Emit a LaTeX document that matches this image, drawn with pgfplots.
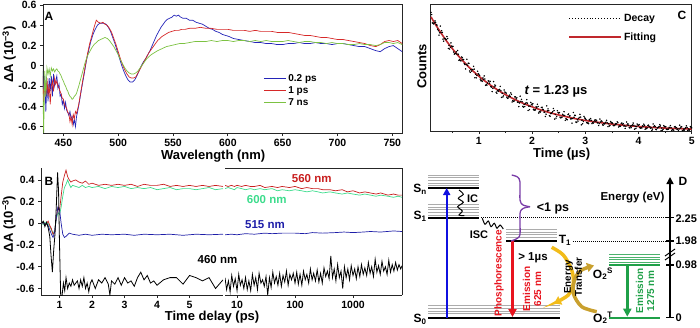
\documentclass[border=0pt]{standalone}
\usepackage{fontspec}
\setmainfont{Liberation Sans}
\usepackage{pgfplots}
\pgfplotsset{compat=1.18}
\usetikzlibrary{arrows.meta}
\newcommand{\fsz}[2]{\fontsize{#1}{#2}\selectfont}
\definecolor{aBlue}{HTML}{2424B8}
\definecolor{aRed}{HTML}{D62828}
\definecolor{aGreen}{HTML}{7CC242}
\definecolor{bRed}{HTML}{C81E1E}
\definecolor{bMint}{HTML}{3CDC8C}
\definecolor{bBlue}{HTML}{1E1EA8}
\definecolor{fitRed}{HTML}{C0282D}
\definecolor{dBlue}{HTML}{1010E0}
\definecolor{dRed}{HTML}{E8141E}
\definecolor{dGreen}{HTML}{1FA048}
\definecolor{dPurple}{HTML}{7A3DA8}
\definecolor{dGold}{HTML}{F2BC1A}
\definecolor{dGold2}{HTML}{C9A02E}
\pgfplotsset{
  panel/.style={scale only axis, anchor=south west, tick align=outside,
    axis line style={line width=0.9pt, black!85},
    every tick/.style={line width=0.8pt, black!85},
    major tick length=3pt, minor tick length=2pt,
    tick label style={font=\bfseries\fsz{10.5}{12}},
    label style={font=\bfseries\fsz{13}{15}},
  },
  lev/.style={line width=2.2pt, black},
  sub/.style={line width=0.7pt, gray!65},
  gsub/.style={line width=0.7pt, dGreen!80},
  dots/.style={only marks, mark=*, mark size=0.5pt, black, forget plot},
}
\begin{document}
\begin{tikzpicture}
\useasboundingbox (0pt,0pt) rectangle (700pt,327pt);

% ---------------- Panel A ----------------
\begin{axis}[panel, at={(43pt,194pt)}, width=359.7pt, height=129pt,
  xmin=431.4, xmax=759.5, ymin=-0.662, ymax=0.61,
  xtick={450,500,550,600,650,700,750}, xticklabels={450,500,550,600,650,700,750},
  ytick={-0.6,-0.4,-0.2,0,0.2,0.4,0.6}, yticklabels={-0.6,-0.4,-0.2,0,0.2,0.4,0.6},
  xtick pos=left, ytick pos=left,
  xlabel={Wavelength (nm)}, ylabel={ΔA (10\textsuperscript{−3})},
  xlabel style={at={(axis description cs:0.473,-0.18)}, anchor=center},
  ylabel style={at={(axis description cs:-0.094,0.61)}, anchor=center},
  legend style={draw=none, fill=none, at={(axis description cs:0.612,0.47)}, anchor=north west, font=\bfseries\fsz{10}{12}, inner sep=0pt, row sep=-0.5pt},
  legend image code/.code={\draw[#1, line width=1pt] (0pt,0pt) -- (22pt,0pt);},
  legend cell align=left,
]
\addplot[aBlue, line width=0.7pt] coordinates {(431,-0.05)(432,-0.30)(433,-0.10)(434,-0.45)(435,-0.15)(436,-0.35)(437,-0.12)(438,-0.25)(439,-0.10)(440,-0.30)(441,-0.08)(442,-0.20)(443,-0.15)(444,-0.10)(445,-0.22)(446,-0.18)(447,-0.30)(448,-0.28)(449,-0.38)(450,-0.34)(451,-0.42)(452,-0.36)(453,-0.44)(454,-0.46)(455,-0.49)(456,-0.45)(457,-0.52)(458,-0.50)(459,-0.58)(460,-0.53)(461,-0.60)(462,-0.50)(463,-0.45)(465,-0.33)(467,-0.20)(469,-0.08)(471,0.05)(473,0.15)(475,0.24)(477,0.31)(479,0.36)(481,0.40)(483,0.42)(485,0.42)(487,0.42)(489,0.41)(491,0.38)(493,0.34)(495,0.28)(497,0.22)(499,0.15)(501,0.08)(503,0.01)(505,-0.05)(507,-0.10)(509,-0.14)(511,-0.16)(513,-0.16)(515,-0.14)(517,-0.10)(519,-0.05)(521,0.00)(523,0.04)(525,0.07)(527,0.11)(529,0.15)(531,0.20)(533,0.25)(535,0.30)(537,0.34)(539,0.38)(541,0.41)(543,0.44)(545,0.46)(547,0.47)(549,0.48)(551,0.50)(553,0.49)(555,0.50)(557,0.48)(559,0.47)(562,0.47)(565,0.45)(568,0.45)(571,0.43)(574,0.42)(577,0.41)(580,0.39)(583,0.37)(586,0.36)(589,0.34)(592,0.33)(595,0.31)(598,0.30)(601,0.29)(605,0.27)(610,0.26)(615,0.25)(620,0.24)(625,0.23)(630,0.23)(635,0.22)(640,0.22)(645,0.21)(650,0.21)(655,0.22)(660,0.22)(665,0.23)(670,0.22)(675,0.22)(680,0.23)(685,0.22)(690,0.22)(695,0.21)(700,0.22)(705,0.22)(710,0.21)(715,0.20)(720,0.19)(725,0.19)(730,0.17)(735,0.15)(739,0.14)(743,0.17)(747,0.19)(751,0.20)(755,0.17)(759,0.14)};
\addlegendentry{0.2 ps}
\addplot[aRed, line width=0.7pt] coordinates {(431,-0.10)(432,-0.35)(433,-0.15)(434,-0.28)(435,-0.12)(436,-0.30)(437,-0.18)(438,-0.38)(439,-0.20)(440,-0.15)(441,-0.25)(442,-0.12)(443,-0.18)(444,-0.15)(445,-0.20)(446,-0.22)(447,-0.25)(448,-0.28)(449,-0.32)(450,-0.33)(451,-0.38)(452,-0.40)(453,-0.42)(454,-0.46)(455,-0.47)(456,-0.55)(457,-0.50)(458,-0.58)(459,-0.48)(460,-0.52)(461,-0.45)(462,-0.47)(464,-0.38)(466,-0.25)(468,-0.12)(470,0.00)(472,0.12)(474,0.22)(476,0.30)(478,0.38)(480,0.45)(482,0.43)(484,0.42)(486,0.43)(488,0.41)(490,0.40)(492,0.37)(494,0.33)(496,0.27)(498,0.21)(500,0.14)(502,0.07)(504,0.01)(506,-0.04)(508,-0.08)(510,-0.11)(512,-0.12)(514,-0.12)(516,-0.11)(518,-0.07)(520,-0.03)(522,0.01)(524,0.05)(526,0.09)(528,0.13)(530,0.16)(532,0.19)(534,0.22)(536,0.25)(538,0.27)(540,0.29)(543,0.31)(546,0.33)(549,0.34)(552,0.35)(555,0.35)(558,0.36)(561,0.36)(565,0.37)(570,0.37)(575,0.38)(580,0.37)(585,0.37)(590,0.36)(595,0.36)(600,0.36)(605,0.35)(610,0.35)(615,0.35)(620,0.34)(625,0.35)(630,0.34)(635,0.34)(640,0.34)(645,0.33)(650,0.33)(655,0.33)(660,0.32)(665,0.31)(670,0.30)(675,0.30)(680,0.29)(685,0.28)(690,0.28)(695,0.27)(700,0.26)(705,0.26)(710,0.25)(715,0.24)(720,0.23)(725,0.22)(730,0.20)(735,0.19)(739,0.21)(743,0.24)(747,0.25)(751,0.24)(755,0.25)(759,0.22)};
\addlegendentry{1 ps}
\addplot[aGreen, line width=0.7pt] coordinates {(431,0.0)(432,-0.66)(433,-0.05)(434,-0.30)(435,-0.02)(436,-0.08)(437,-0.03)(438,-0.10)(439,-0.02)(440,-0.05)(441,-0.03)(442,-0.06)(443,-0.04)(444,-0.03)(445,-0.05)(446,-0.06)(447,-0.08)(448,-0.10)(449,-0.13)(450,-0.15)(451,-0.18)(452,-0.20)(453,-0.23)(454,-0.25)(455,-0.28)(456,-0.30)(457,-0.31)(458,-0.33)(459,-0.32)(460,-0.30)(461,-0.29)(462,-0.27)(464,-0.20)(466,-0.12)(468,-0.04)(470,0.04)(472,0.10)(474,0.14)(476,0.18)(478,0.21)(480,0.23)(482,0.25)(484,0.26)(486,0.27)(488,0.28)(490,0.27)(492,0.25)(494,0.22)(496,0.19)(498,0.15)(500,0.11)(502,0.06)(504,0.02)(506,-0.02)(508,-0.05)(510,-0.07)(512,-0.08)(514,-0.08)(516,-0.07)(518,-0.05)(520,-0.02)(522,0.01)(524,0.04)(526,0.07)(528,0.09)(530,0.11)(533,0.13)(536,0.15)(540,0.17)(544,0.19)(548,0.20)(552,0.21)(556,0.22)(560,0.22)(565,0.23)(570,0.24)(575,0.24)(580,0.24)(585,0.25)(590,0.24)(595,0.25)(600,0.25)(605,0.24)(610,0.25)(615,0.25)(620,0.24)(625,0.25)(630,0.24)(635,0.25)(640,0.24)(645,0.24)(650,0.24)(655,0.25)(660,0.24)(665,0.23)(670,0.24)(675,0.24)(680,0.23)(685,0.23)(690,0.22)(695,0.23)(700,0.22)(705,0.22)(710,0.21)(715,0.21)(720,0.22)(725,0.21)(730,0.21)(735,0.20)(739,0.21)(743,0.23)(747,0.23)(751,0.22)(755,0.23)(759,0.21)};
\addlegendentry{7 ns}
\end{axis}
\node[font=\bfseries\fsz{12}{14}] at (49pt,311pt) {A};

% ---------------- Panel B (linear part) ----------------
\begin{axis}[panel, at={(41pt,32pt)}, width=182pt, height=127pt,
  xmin=0.43, xmax=6.03, ymin=-0.66, ymax=0.51,
  axis x line*=bottom, axis y line*=left, axis line style={-},
  xtick={1,2,3,4,5}, xticklabels={1,2,3,4,5},
  ytick={-0.6,-0.4,-0.2,0,0.2,0.4}, yticklabels={-0.6,-0.4,-0.2,0,0.2,0.4},
  xlabel={Time delay (ps)}, ylabel={ΔA (10\textsuperscript{−3})},
  xlabel style={at={(axis description cs:0.94,-0.171)}, anchor=center},
  ylabel style={at={(axis description cs:-0.176,0.56)}, anchor=center},
]
\addplot[bMint, line width=0.7pt] coordinates {(0.45,0.0)(0.5,-0.01)(0.55,0.01)(0.6,-0.01)(0.65,0.0)(0.7,-0.03)(0.75,-0.06)(0.8,-0.1)(0.85,-0.06)(0.9,0.03)(0.95,0.10)(1.0,0.08)(1.05,0.15)(1.1,0.25)(1.15,0.33)(1.2,0.36)(1.25,0.40)(1.3,0.36)(1.35,0.33)(1.4,0.35)(1.5,0.34)(1.6,0.33)(1.7,0.35)(1.8,0.33)(1.9,0.34)(2.0,0.33)(2.2,0.34)(2.4,0.32)(2.6,0.34)(2.8,0.33)(3.0,0.34)(3.2,0.32)(3.4,0.33)(3.6,0.32)(3.8,0.33)(4.0,0.31)(4.2,0.32)(4.4,0.33)(4.6,0.31)(4.8,0.32)(5.0,0.32)(5.2,0.31)(5.4,0.32)(5.6,0.33)(5.8,0.31)(6.03,0.32)};
\addplot[bRed, line width=0.7pt] coordinates {(0.45,0.0)(0.5,0.01)(0.55,-0.01)(0.6,0.0)(0.65,0.02)(0.7,-0.02)(0.75,-0.05)(0.8,-0.1)(0.85,-0.08)(0.9,0.05)(0.95,0.14)(1.0,0.12)(1.05,0.25)(1.1,0.38)(1.15,0.44)(1.2,0.49)(1.25,0.43)(1.3,0.40)(1.35,0.38)(1.4,0.39)(1.5,0.40)(1.6,0.38)(1.7,0.37)(1.8,0.39)(1.9,0.36)(2.0,0.37)(2.2,0.35)(2.4,0.36)(2.6,0.35)(2.8,0.36)(3.0,0.35)(3.2,0.36)(3.4,0.34)(3.6,0.36)(3.8,0.35)(4.0,0.35)(4.2,0.36)(4.4,0.34)(4.6,0.35)(4.8,0.34)(5.0,0.35)(5.2,0.34)(5.4,0.35)(5.6,0.34)(5.8,0.35)(6.03,0.34)};
\addplot[bBlue, line width=0.7pt] coordinates {(0.45,0.0)(0.5,0.01)(0.55,-0.01)(0.6,0.0)(0.65,-0.02)(0.7,-0.06)(0.75,-0.1)(0.8,-0.13)(0.85,-0.08)(0.9,0.05)(0.95,0.15)(1.0,0.13)(1.05,0.0)(1.1,-0.1)(1.15,-0.13)(1.2,-0.12)(1.3,-0.09)(1.4,-0.10)(1.6,-0.11)(1.8,-0.10)(2.0,-0.11)(2.3,-0.10)(2.6,-0.105)(3.0,-0.10)(3.3,-0.11)(3.6,-0.10)(4.0,-0.105)(4.4,-0.10)(4.8,-0.11)(5.2,-0.10)(5.6,-0.105)(6.03,-0.10)};
\addplot[black, line width=0.8pt] coordinates {(0.45,0.0)(0.5,0.02)(0.55,-0.03)(0.6,0.01)(0.65,-0.04)(0.7,-0.12)(0.74,-0.30)(0.78,-0.45)(0.82,-0.25)(0.86,-0.10)(0.9,0.15)(0.94,0.47)(0.97,0.30)(1.0,-0.2)(1.04,-0.72)(1.08,-0.66)(1.12,-0.55)(1.16,-0.62)(1.2,-0.5)(1.25,-0.6)(1.3,-0.55)(1.35,-0.58)(1.4,-0.52)(1.45,-0.57)(1.5,-0.55)(1.55,-0.53)(1.6,-0.6)(1.65,-0.52)(1.7,-0.58)(1.75,-0.5)(1.8,-0.6)(1.85,-0.55)(1.9,-0.63)(1.95,-0.55)(2.0,-0.52)(2.1,-0.6)(2.2,-0.52)(2.3,-0.55)(2.4,-0.5)(2.5,-0.56)(2.55,-0.66)(2.6,-0.53)(2.7,-0.56)(2.8,-0.5)(2.9,-0.57)(3.0,-0.5)(3.1,-0.55)(3.2,-0.53)(3.3,-0.58)(3.4,-0.5)(3.5,-0.45)(3.6,-0.52)(3.7,-0.48)(3.8,-0.55)(3.9,-0.53)(4.0,-0.57)(4.2,-0.52)(4.4,-0.5)(4.6,-0.5)(4.8,-0.56)(5.0,-0.48)(5.2,-0.5)(5.4,-0.53)(5.6,-0.5)(5.8,-0.6)(6.03,-0.52)};
\end{axis}

% ---------------- Panel B (log part) ----------------
\begin{axis}[panel, at={(225pt,32pt)}, width=177pt, height=127pt,
  xmode=log, xmin=6.2, xmax=7000, ymin=-0.66, ymax=0.51,
  axis x line*=box, axis y line*=right, axis line style={-},
  xtick={10,100,1000}, xticklabels={10,100,1000}, xtick pos=left, xminorticks=false,
  ytick=\empty,
]
\addplot[bMint, line width=0.7pt] coordinates {(6.2,0.32)(7,0.33)(8,0.32)(9,0.31)(10,0.33)(12,0.32)(14,0.31)(17,0.32)(20,0.31)(25,0.32)(30,0.31)(40,0.32)(50,0.30)(60,0.31)(80,0.30)(100,0.31)(130,0.30)(160,0.29)(200,0.30)(250,0.29)(300,0.28)(400,0.29)(500,0.28)(650,0.27)(800,0.28)(1000,0.27)(1300,0.26)(1600,0.27)(2000,0.26)(2500,0.25)(3000,0.26)(4000,0.25)(5000,0.24)(6000,0.25)(7000,0.24)};
\addplot[bRed, line width=0.7pt] coordinates {(6.2,0.35)(7,0.34)(8,0.35)(9,0.34)(10,0.35)(12,0.34)(14,0.35)(17,0.34)(20,0.34)(25,0.35)(30,0.33)(40,0.34)(50,0.33)(60,0.34)(80,0.33)(100,0.34)(130,0.32)(160,0.33)(200,0.32)(250,0.32)(300,0.31)(400,0.31)(500,0.30)(650,0.31)(800,0.29)(1000,0.30)(1300,0.28)(1600,0.29)(2000,0.28)(2500,0.27)(3000,0.28)(4000,0.26)(5000,0.27)(6000,0.26)(7000,0.26)};
\addplot[bBlue, line width=0.7pt] coordinates {(6.2,-0.105)(8,-0.10)(10,-0.105)(14,-0.095)(20,-0.10)(30,-0.09)(40,-0.095)(60,-0.09)(100,-0.09)(150,-0.095)(200,-0.085)(300,-0.09)(500,-0.085)(700,-0.08)(1000,-0.085)(1500,-0.08)(2000,-0.075)(3000,-0.08)(5000,-0.07)(7000,-0.075)};
\addplot[black, line width=0.8pt] coordinates {(6.2,-0.50)(6.6,-0.61)(7.1,-0.53)(7.6,-0.63)(8.1,-0.48)(8.7,-0.58)(9.3,-0.51)(10,-0.62)(10.7,-0.47)(11.4,-0.57)(12.2,-0.52)(13.1,-0.60)(14,-0.50)(15,-0.61)(16,-0.53)(17.2,-0.62)(18.4,-0.47)(19.7,-0.57)(21,-0.50)(22.5,-0.61)(24,-0.46)(25.8,-0.55)(27.6,-0.52)(29.5,-0.58)(31.6,-0.49)(33.8,-0.66)(36.2,-0.50)(38.7,-0.59)(41.4,-0.45)(44.3,-0.55)(47.4,-0.49)(50.7,-0.57)(54.3,-0.46)(58.1,-0.58)(62.1,-0.48)(66.5,-0.54)(71.1,-0.44)(76.1,-0.57)(81.4,-0.47)(87.1,-0.52)(93.2,-0.46)(100,-0.55)(107,-0.45)(114,-0.56)(122,-0.47)(131,-0.57)(140,-0.44)(150,-0.52)(160,-0.47)(172,-0.55)(184,-0.42)(197,-0.52)(210,-0.46)(225,-0.53)(241,-0.43)(258,-0.54)(276,-0.46)(295,-0.55)(316,-0.41)(338,-0.49)(362,-0.44)(387,-0.51)(414,-0.30)(443,-0.50)(474,-0.42)(507,-0.53)(543,-0.38)(581,-0.50)(621,-0.44)(665,-0.60)(711,-0.40)(761,-0.50)(814,-0.42)(871,-0.52)(932,-0.39)(1000,-0.48)(1070,-0.42)(1140,-0.51)(1220,-0.40)(1310,-0.49)(1400,-0.38)(1500,-0.47)(1600,-0.41)(1720,-0.48)(1840,-0.36)(1970,-0.46)(2100,-0.40)(2250,-0.49)(2410,-0.33)(2580,-0.45)(2760,-0.39)(2950,-0.47)(3160,-0.35)(3380,-0.44)(3620,-0.40)(3870,-0.47)(4140,-0.34)(4430,-0.45)(4740,-0.38)(5070,-0.44)(5430,-0.36)(5810,-0.43)(6210,-0.38)(6650,-0.42)(7000,-0.39)};
\end{axis}
\node[font=\bfseries\fsz{12}{14}] at (49pt,146pt) {B};
\node[font=\bfseries\fsz{11.5}{13}, text=bRed] at (311.7pt,148pt) {560 nm};
\node[font=\bfseries\fsz{11.5}{13}, text=bMint] at (266.7pt,127.7pt) {600 nm};
\node[font=\bfseries\fsz{11.5}{13}, text=bBlue] at (265pt,102.7pt) {515 nm};
\node[font=\bfseries\fsz{11.5}{13}, text=black] at (217.5pt,67pt) {460 nm};

% ---------------- Panel C ----------------
\begin{axis}[panel, at={(430.7pt,196pt)}, width=261pt, height=127pt,
  xmin=0.094, xmax=5, ymin=0.012, ymax=1,
  xtick={1,2,3,4,5}, xticklabels={1,2,3,4,5}, minor xtick={0.5,1.5,2.5,3.5,4.5},
  ytick=\empty, xtick pos=left,
  xlabel={Time (µs)}, ylabel={Counts},
  xlabel style={at={(axis description cs:0.502,-0.18)}, anchor=center},
  ylabel style={at={(axis description cs:-0.034,0.51)}, anchor=center},
  legend style={draw=none, fill=none, at={(axis description cs:0.527,0.94)}, anchor=north west, font=\bfseries\fsz{10.5}{12}, row sep=6pt, inner sep=0pt},
  legend image code/.code={\draw[#1] (0pt,0pt) -- (52pt,0pt);},
  legend cell align=left,
]
\addplot[dots] coordinates {(0.10,0.935)(0.15,0.845)(0.20,0.840)(0.25,0.758)(0.30,0.792)(0.35,0.732)(0.40,0.747)(0.45,0.650)(0.50,0.668)(0.55,0.613)(0.60,0.638)(0.65,0.560)(0.70,0.566)(0.75,0.495)(0.80,0.539)(0.85,0.489)(0.90,0.515)(0.95,0.426)(1.00,0.453)(1.05,0.406)(1.10,0.440)(1.15,0.369)(1.20,0.384)(1.25,0.319)(1.30,0.370)(1.35,0.327)(1.40,0.359)(1.45,0.277)(1.50,0.310)(1.55,0.269)(1.60,0.308)(1.65,0.242)(1.70,0.262)(1.75,0.202)(1.80,0.258)(1.85,0.219)(1.90,0.256)(1.95,0.178)(2.00,0.215)(2.05,0.177)(2.10,0.220)(2.15,0.158)(2.20,0.181)(2.25,0.125)(2.30,0.184)(2.35,0.148)(2.40,0.187)(2.45,0.112)(2.50,0.152)(2.55,0.117)(2.60,0.162)(2.65,0.102)(2.70,0.128)(2.75,0.073)(2.80,0.134)(2.85,0.100)(2.90,0.142)(2.95,0.068)(3.00,0.109)(3.05,0.076)(3.10,0.109)(3.15,0.073)(3.20,0.088)(3.25,0.055)(3.30,0.091)(3.35,0.071)(3.40,0.095)(3.45,0.051)(3.50,0.075)(3.55,0.055)(3.60,0.083)(3.65,0.048)(3.70,0.064)(3.75,0.032)(3.80,0.069)(3.85,0.049)(3.90,0.074)(3.95,0.031)(4.00,0.056)(4.05,0.037)(4.10,0.065)(4.15,0.031)(4.20,0.048)(4.25,0.016)(4.30,0.054)(4.35,0.035)(4.40,0.061)(4.45,0.018)(4.50,0.044)(4.55,0.025)(4.60,0.054)(4.65,0.020)(4.70,0.037)(4.75,0.014)(4.80,0.045)(4.85,0.026)(4.90,0.052)(4.95,0.015)(5.00,0.036)};
\addplot[dots] coordinates {(0.125,0.853)(0.175,0.868)(0.225,0.804)(0.275,0.828)(0.325,0.727)(0.375,0.727)(0.425,0.654)(0.475,0.697)(0.525,0.626)(0.575,0.628)(0.625,0.562)(0.675,0.588)(0.725,0.536)(0.775,0.570)(0.825,0.479)(0.875,0.490)(0.925,0.426)(0.975,0.477)(1.025,0.415)(1.075,0.425)(1.125,0.367)(1.175,0.402)(1.225,0.357)(1.275,0.397)(1.325,0.314)(1.375,0.331)(1.425,0.273)(1.475,0.331)(1.525,0.275)(1.575,0.291)(1.625,0.238)(1.675,0.277)(1.725,0.237)(1.775,0.283)(1.825,0.204)(1.875,0.225)(1.925,0.172)(1.975,0.234)(2.025,0.181)(2.075,0.201)(2.125,0.152)(2.175,0.195)(2.225,0.158)(2.275,0.207)(2.325,0.131)(2.375,0.155)(2.425,0.105)(2.475,0.170)(2.525,0.120)(2.575,0.142)(2.625,0.095)(2.675,0.140)(2.725,0.106)(2.775,0.156)(2.825,0.082)(2.875,0.109)(2.925,0.060)(2.975,0.126)(3.025,0.078)(3.075,0.102)(3.125,0.069)(3.175,0.096)(3.225,0.075)(3.275,0.105)(3.325,0.060)(3.375,0.076)(3.425,0.046)(3.475,0.086)(3.525,0.056)(3.575,0.070)(3.625,0.043)(3.675,0.071)(3.725,0.051)(3.775,0.082)(3.825,0.038)(3.875,0.054)(3.925,0.026)(3.975,0.066)(4.025,0.038)(4.075,0.052)(4.125,0.026)(4.175,0.055)(4.225,0.035)(4.275,0.067)(4.325,0.024)(4.375,0.041)(4.425,0.016)(4.475,0.054)(4.525,0.026)(4.575,0.041)(4.625,0.015)(4.675,0.044)(4.725,0.025)(4.775,0.057)(4.825,0.015)(4.875,0.032)(4.925,0.016)(4.975,0.046)};
\addplot[dots] coordinates {(0.1125,0.918)(0.1625,0.853)(0.2125,0.836)(0.2625,0.776)(0.3125,0.779)(0.3625,0.733)(0.4125,0.731)(0.4625,0.664)(0.5125,0.671)(0.5625,0.616)(0.6125,0.609)(0.6625,0.558)(0.7125,0.568)(0.7625,0.531)(0.8125,0.538)(0.8625,0.478)(0.9125,0.493)(0.9625,0.444)(1.0125,0.444)(1.0625,0.399)(1.1125,0.417)(1.1625,0.385)(1.2125,0.398)(1.2625,0.343)(1.3125,0.363)(1.3625,0.320)(1.4125,0.325)(1.4625,0.285)(1.5125,0.307)(1.5625,0.280)(1.6125,0.297)(1.6625,0.246)(1.7125,0.270)(1.7625,0.230)(1.8125,0.239)(1.8625,0.202)(1.9125,0.228)(1.9625,0.204)(2.0125,0.224)(2.0625,0.176)(2.1125,0.203)(2.1625,0.166)(2.2125,0.177)(2.2625,0.143)(2.3125,0.171)(2.3625,0.149)(2.4125,0.171)(2.4625,0.126)(2.5125,0.155)(2.5625,0.120)(2.6125,0.133)(2.6625,0.100)(2.7125,0.130)(2.7625,0.109)(2.8125,0.133)(2.8625,0.089)(2.9125,0.120)(2.9625,0.086)(3.0125,0.100)(3.0625,0.069)(3.1125,0.095)(3.1625,0.083)(3.2125,0.096)(3.2625,0.069)(3.3125,0.087)(3.3625,0.067)(3.4125,0.075)(3.4625,0.056)(3.5125,0.073)(3.5625,0.062)(3.6125,0.076)(3.6625,0.050)(3.7125,0.069)(3.7625,0.049)(3.8125,0.058)(3.8625,0.039)(3.9125,0.057)(3.9625,0.047)(4.0125,0.061)(4.0625,0.036)(4.1125,0.055)(4.1625,0.036)(4.2125,0.046)(4.2625,0.027)(4.3125,0.046)(4.3625,0.036)(4.4125,0.051)(4.4625,0.026)(4.5125,0.046)(4.5625,0.027)(4.6125,0.037)(4.6625,0.019)(4.7125,0.038)(4.7625,0.028)(4.8125,0.044)(4.8625,0.019)(4.9125,0.039)(4.9625,0.021)};
\addplot[dots] coordinates {(0.1375,0.851)(0.1875,0.856)(0.2375,0.792)(0.2875,0.777)(0.3375,0.711)(0.3875,0.723)(0.4375,0.678)(0.4875,0.673)(0.5375,0.610)(0.5875,0.611)(0.6375,0.566)(0.6875,0.582)(0.7375,0.529)(0.7875,0.524)(0.8375,0.468)(0.8875,0.491)(0.9375,0.454)(0.9875,0.458)(1.0375,0.403)(1.0875,0.413)(1.1375,0.375)(1.1875,0.400)(1.2375,0.353)(1.2875,0.355)(1.3375,0.306)(1.3875,0.335)(1.4375,0.305)(1.4875,0.315)(1.5375,0.266)(1.5875,0.281)(1.6375,0.248)(1.6875,0.278)(1.7375,0.236)(1.7875,0.243)(1.8375,0.198)(1.8875,0.232)(1.9375,0.206)(1.9875,0.220)(2.0375,0.174)(2.0875,0.193)(2.1375,0.164)(2.1875,0.197)(2.2375,0.159)(2.2875,0.169)(2.3375,0.127)(2.3875,0.163)(2.4375,0.140)(2.4875,0.157)(2.5375,0.114)(2.5875,0.135)(2.6375,0.108)(2.6875,0.144)(2.7375,0.107)(2.7875,0.119)(2.8375,0.079)(2.8875,0.118)(2.9375,0.096)(2.9875,0.114)(3.0375,0.073)(3.0875,0.096)(3.1375,0.077)(3.1875,0.098)(3.2375,0.075)(3.2875,0.082)(3.3375,0.058)(3.3875,0.081)(3.4375,0.068)(3.4875,0.078)(3.5375,0.053)(3.5875,0.067)(3.6375,0.052)(3.6875,0.074)(3.7375,0.052)(3.7875,0.060)(3.8375,0.036)(3.8875,0.060)(3.9375,0.048)(3.9875,0.059)(4.0375,0.035)(4.0875,0.049)(4.1375,0.035)(4.1875,0.058)(4.2375,0.036)(4.2875,0.045)(4.3375,0.022)(4.3875,0.047)(4.4375,0.035)(4.4875,0.047)(4.5375,0.023)(4.5875,0.038)(4.6375,0.024)(4.6875,0.047)(4.7375,0.026)(4.7875,0.036)(4.8375,0.016)(4.8875,0.038)(4.9375,0.027)(4.9875,0.039)};
\addlegendimage{black, dotted, line width=0.9pt}
\addlegendentry{Decay}
\addplot[fitRed, line width=1.6pt, smooth] coordinates {(0.1,0.900)(0.2,0.830)(0.4,0.707)(0.6,0.603)(0.8,0.514)(1.0,0.438)(1.2,0.374)(1.4,0.319)(1.6,0.273)(1.8,0.233)(2.0,0.200)(2.2,0.171)(2.4,0.147)(2.6,0.127)(2.8,0.109)(3.0,0.094)(3.2,0.082)(3.5,0.066)(4.0,0.047)(4.5,0.035)(5.0,0.027)};
\addlegendentry{Fitting}
\end{axis}
\node[font=\bfseries\fsz{12}{14}] at (682pt,312pt) {C};
\node[font=\bfseries\fsz{13}{15}] at (556pt,236pt) {\itshape t\upshape{} = 1.23 µs};

% ---------------- Panel D ----------------
\begin{axis}[at={(405pt,0pt)}, anchor=south west, scale only axis, width=295pt, height=162pt,
  xmin=405, xmax=700, ymin=0, ymax=162, hide axis, clip=false]
\addplot[sub] coordinates {(428,152)(479,152)};
\addplot[sub] coordinates {(428,149.3)(479,149.3)};
\addplot[sub] coordinates {(428,146.7)(479,146.7)};
\addplot[sub] coordinates {(428,144)(479,144)};
\addplot[sub] coordinates {(428,141.3)(479,141.3)};
\addplot[lev] coordinates {(428,138.7)(479,138.7)};
\addplot[sub] coordinates {(428,122.7)(479,122.7)};
\addplot[sub] coordinates {(428,120)(479,120)};
\addplot[sub] coordinates {(428,117.3)(479,117.3)};
\addplot[sub] coordinates {(428,114.7)(479,114.7)};
\addplot[sub] coordinates {(428,112)(479,112)};
\addplot[lev] coordinates {(428,109.3)(479,109.3)};
\addplot[sub] coordinates {(428,21.5)(560,21.5)};
\addplot[sub] coordinates {(428,18.8)(560,18.8)};
\addplot[sub] coordinates {(428,16.1)(560,16.1)};
\addplot[sub] coordinates {(428,13.4)(560,13.4)};
\addplot[lev] coordinates {(428,9)(560,9)};
\addplot[sub] coordinates {(506,97.5)(557,97.5)};
\addplot[sub] coordinates {(506,95)(557,95)};
\addplot[sub] coordinates {(506,92.5)(557,92.5)};
\addplot[sub] coordinates {(506,90)(557,90)};
\addplot[lev] coordinates {(506,86)(557,86)};
\addplot[gsub] coordinates {(609,72.7)(660,72.7)};
\addplot[gsub] coordinates {(609,70)(660,70)};
\addplot[gsub] coordinates {(609,67.3)(660,67.3)};
\addplot[gsub] coordinates {(609,64.7)(660,64.7)};
\addplot[line width=2.2pt, dGreen] coordinates {(609,62)(660,62)};
\addplot[line width=2.2pt, dGreen] coordinates {(609,9.3)(660,9.3)};
\addplot[black, densely dotted, line width=1pt] coordinates {(481,109.3)(668,109.3)};
\addplot[black, densely dotted, line width=1pt] coordinates {(573,86)(668,86)};
\addplot[black, line width=1.5pt, -{Triangle[length=7pt,width=7pt]}] coordinates {(670,9.3)(670,150)};
\addplot[black, line width=1.5pt] coordinates {(666,109.3)(674,109.3)};
\addplot[black, line width=1.5pt] coordinates {(666,86)(674,86)};
\addplot[black, line width=1.5pt] coordinates {(666,62)(674,62)};
\addplot[black, line width=1.5pt] coordinates {(666,9.3)(674,9.3)};
\addplot[black, line width=1pt] coordinates {(665,67)(675,74)};
\addplot[black, line width=1pt] coordinates {(665,71)(675,78)};
\addplot[dBlue, line width=2.2pt, -{Triangle[length=7pt,width=7pt]}] coordinates {(446.7,9)(446.7,139)};
\addplot[dRed, line width=2.6pt, -{Triangle[length=8pt,width=8pt]}] coordinates {(512.5,86)(512.5,10)};
\addplot[dGreen, line width=2.6pt, -{Triangle[length=8pt,width=8pt]}] coordinates {(627.3,62)(627.3,10.3)};
\addplot[black, line width=1pt, smooth] coordinates {(459,137)(463.3,132.7)(458.3,128.7)(463.3,124.7)(457.7,120.3)(462.3,116)(459,112)(464.3,111.3)};
\addplot[black, line width=1pt, smooth] coordinates {(482.3,108.7)(485,102.7)(488.3,106)(491,100.3)(494.3,103.7)(497,98.7)(500,102)(503.3,98)};
\addplot[dPurple, line width=1.3pt, smooth] coordinates {(511.7,152)(517.5,150)(520,145)(520,127)(523,122)(530,120.3)};
\addplot[dPurple, line width=1.3pt, smooth] coordinates {(530,120.3)(523,118.5)(520,113.5)(520,93)(517,88.5)(511,86)};
\addplot[dGold, line width=3.5pt, smooth, -{Triangle[length=7pt,width=9pt]}] coordinates {(551.7,79.7)(563.3,72)(571.7,57)(573.3,43.7)(568.3,32)(554,23.5)};
\addplot[dGold2, line width=3.5pt, smooth, -{Triangle[length=7pt,width=9pt]}] coordinates {(596.7,15.3)(581.7,20.3)(573.3,33.7)(575,48.7)(581.7,57)(594,61.5)};
\node[font=\bfseries\fsz{12}{14}] at (axis cs:420,138) {S\textsubscript{n}};
\node[font=\bfseries\fsz{12}{14}] at (axis cs:420,111) {S\textsubscript{1}};
\node[font=\bfseries\fsz{12}{14}] at (axis cs:420,8) {S\textsubscript{0}};
\node[font=\bfseries\fsz{12}{14}] at (axis cs:565,87) {T\textsubscript{1}};
\node[font=\bfseries\fsz{12}{14}] at (axis cs:603,53) {O\textsubscript{2}\textsuperscript{S}};
\node[font=\bfseries\fsz{12}{14}] at (axis cs:603,9) {O\textsubscript{2}\textsuperscript{T}};
\node[font=\bfseries\fsz{11}{13}] at (axis cs:472.5,128.7) {IC};
\node[font=\bfseries\fsz{11}{13}] at (axis cs:479,92) {ISC};
\node[font=\bfseries\fsz{12.5}{14}] at (axis cs:553,119) {<1 ps};
\node[font=\bfseries\fsz{11.5}{13}] at (axis cs:533,69) {> 1µs};
\node[font=\bfseries\fsz{10}{11}, text=dRed, rotate=90] at (axis cs:499,54) {Phosphorescence};
\node[font=\bfseries\fsz{10}{11}, text=dRed, rotate=90, align=center] at (axis cs:532,38) {Emission\\625 nm};
\node[font=\bfseries\fsz{9.8}{11}, rotate=90, align=center] at (axis cs:573,50) {Energy\\Transfer};
\node[font=\bfseries\fsz{10}{11}, text=dGreen, rotate=90, align=center] at (axis cs:645,36) {Emission\\1275 nm};
\node[font=\bfseries\fsz{11.5}{13}] at (axis cs:632.5,129.5) {Energy (eV)};
\node[font=\bfseries\fsz{12}{14}] at (axis cs:683,146) {D};
\node[font=\bfseries\fsz{11}{13}, anchor=west] at (axis cs:672,108.7) {2.25};
\node[font=\bfseries\fsz{11}{13}, anchor=west] at (axis cs:672,86) {1.98};
\node[font=\bfseries\fsz{11}{13}, anchor=west] at (axis cs:672,62) {0.98};
\node[font=\bfseries\fsz{11}{13}, anchor=west] at (axis cs:672,9) {0};
\end{axis}
\end{tikzpicture}
\end{document}
